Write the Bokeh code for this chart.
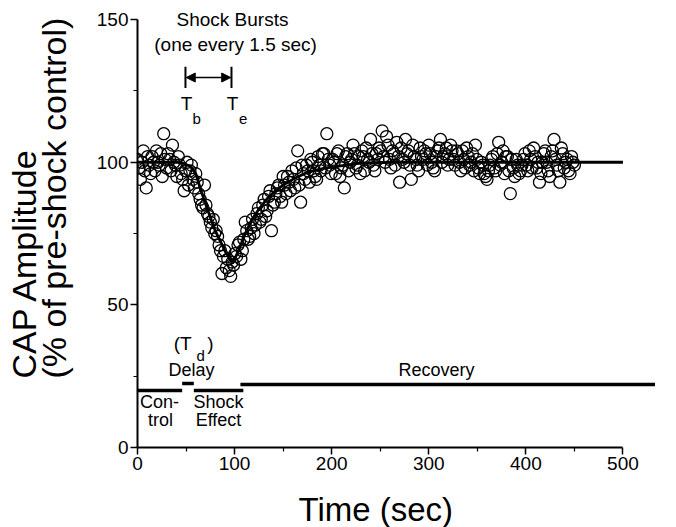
import math
from bokeh.plotting import figure
from bokeh.models import Range1d, FixedTicker, Arrow, NormalHead, Title
from bokeh.core.properties import value
from bokeh.embed import file_html
from bokeh.resources import INLINE

# ---------------- data ----------------
times = [0, 3, 6, 9, 12, 15, 18, 21, 24, 27,
         30, 33, 36, 39, 42, 45, 48, 51, 54, 57,
         60, 63, 66, 69, 72, 75, 78, 81, 84, 87,
         90, 93, 96, 99, 102, 105, 108, 111, 114, 117,
         120, 123, 126, 129, 132, 135, 138, 141, 144, 147,
         150, 153, 156, 159, 162, 165, 168, 171, 174, 177,
         180, 183, 186, 189, 192, 195, 198, 201, 204, 207,
         210, 213, 216, 219, 222, 225, 228, 231, 234, 237,
         240, 243, 246, 249, 252, 255, 258, 261, 264, 267,
         270, 273, 276, 279, 282, 285, 288, 291, 294, 297,
         300, 303, 306, 309, 312, 315, 318, 321, 324, 327,
         330, 333, 336, 339, 342, 345, 348, 351, 354, 357,
         360, 363, 366, 369, 372, 375, 378, 381, 384, 387,
         390, 393, 396, 399, 402, 405, 408, 411, 414, 417,
         420, 423, 426, 429, 432, 435, 438, 441, 444, 447,
         450]
cap_values = [101, 94, 104, 91, 99, 102, 97, 100, 103, 110,
              98, 101, 106, 99, 102, 96, 90, 100, 97, 94,
              96, 89, 85, 92, 82, 79, 80, 76, 71, 61,
              69, 66, 60, 64, 67, 72, 69, 79, 73, 77,
              75, 82, 79, 85, 81, 88, 76, 86, 91, 88,
              95, 89, 93, 97, 91, 104, 86, 96, 99, 93,
              100, 95, 102, 97, 103, 110, 99, 101, 96, 104,
              98, 91, 103, 100, 106, 98, 102, 104, 97, 101,
              108, 99, 103, 105, 111, 100, 106, 98, 103, 107,
              93, 101, 108, 104, 94, 102, 99, 105, 101, 103,
              106, 100, 97, 104, 108, 102, 105, 101, 104, 99,
              103, 97, 101, 105, 99, 103, 106, 98, 100, 96,
              94, 99, 102, 97, 107, 100, 96, 102, 89, 98,
              101, 96, 99, 103, 97, 101, 105, 98, 93, 100,
              104, 97, 102, 108, 99, 93, 103, 100, 97, 102,
              99]
times_b = [1.5, 4.5, 7.5, 10.5, 13.5, 16.5, 19.5, 22.5, 25.5, 28.5,
           31.5, 34.5, 37.5, 40.5, 43.5, 46.5, 49.5, 52.5, 55.5, 58.5,
           61.5, 64.5, 67.5, 70.5, 73.5, 76.5, 79.5, 82.5, 85.5, 88.5,
           91.5, 94.5, 97.5, 100.5, 103.5, 106.5, 109.5, 112.5, 115.5, 118.5,
           121.5, 124.5, 127.5, 130.5, 133.5, 136.5, 139.5, 142.5, 145.5, 148.5,
           151.5, 154.5, 157.5, 160.5, 163.5, 166.5, 169.5, 172.5, 175.5, 178.5,
           181.5, 184.5, 187.5, 190.5, 193.5, 196.5, 199.5, 202.5, 205.5, 208.5,
           211.5, 214.5, 217.5, 220.5, 223.5, 226.5, 229.5, 232.5, 235.5, 238.5,
           241.5, 244.5, 247.5, 250.5, 253.5, 256.5, 259.5, 262.5, 265.5, 268.5,
           271.5, 274.5, 277.5, 280.5, 283.5, 286.5, 289.5, 292.5, 295.5, 298.5,
           301.5, 304.5, 307.5, 310.5, 313.5, 316.5, 319.5, 322.5, 325.5, 328.5,
           331.5, 334.5, 337.5, 340.5, 343.5, 346.5, 349.5, 352.5, 355.5, 358.5,
           361.5, 364.5, 367.5, 370.5, 373.5, 376.5, 379.5, 382.5, 385.5, 388.5,
           391.5, 394.5, 397.5, 400.5, 403.5, 406.5, 409.5, 412.5, 415.5, 418.5,
           421.5, 424.5, 427.5, 430.5, 433.5, 436.5, 439.5, 442.5, 445.5, 448.5]
cap_values_b = [98, 100, 97, 102, 96, 100, 104, 99, 95, 101,
                103, 97, 100, 95, 99, 94, 97, 92, 99, 91,
                93, 87, 84, 85, 81, 77, 75, 74, 69, 67,
                63, 62, 65, 68, 71, 66, 73, 76, 74, 80,
                78, 84, 80, 87, 83, 90, 85, 89, 92, 86,
                92, 95, 90, 94, 98, 92, 99, 94, 97, 101,
                97, 94, 99, 103, 98, 101, 96, 100, 103, 95,
                99, 102, 97, 101, 103, 99, 96, 102, 105, 100,
                103, 97, 101, 104, 102, 109, 101, 104, 99, 102,
                105, 100, 103, 99, 106, 101, 97, 102, 104, 99,
                103, 98, 102, 105, 100, 103, 99, 106, 101, 104,
                100, 104, 98, 102, 100, 97, 101, 96, 99, 95,
                97, 101, 98, 103, 99, 104, 102, 97, 101, 95,
                99, 97, 101, 99, 104, 98, 102, 100, 96, 103,
                100, 95, 104, 101, 97, 105, 98, 101, 96, 100]

fit_t = [0, 40, 48, 55, 60, 65, 70, 80, 90, 98, 104, 111, 118, 125, 133,
         142, 150, 160, 175, 194, 228, 260, 500]
fit_v = [100, 100, 99.5, 98.5, 96, 90.5, 85.5, 76, 69, 64.5, 69, 75, 80,
         83.5, 87, 90, 92, 94, 96.5, 98, 99.6, 100, 100]

x_ticks = [0, 100, 200, 300, 400, 500]
x_minor = [50, 150, 250, 350, 450]
y_ticks = [0, 50, 100, 150]
y_minor = [25, 75, 125]

# phase bars (start, end, level)
phase_start = [0, 46, 58, 106]
phase_end = [46, 58, 109, 533]
phase_level = [20, 22.4, 20, 22.1]

burst_begin = 49.4
burst_end = 96.8

FONT = "Liberation Sans"

p = figure(width=676, height=527, output_backend="svg", toolbar_location=None,
           x_range=Range1d(0, 550), y_range=Range1d(0, 156),
           min_border_left=137, min_border_right=5, min_border_top=2,
           min_border_bottom=80)
p.outline_line_color = None
p.grid.visible = False
p.background_fill_color = "white"
p.border_fill_color = "white"

for ax, tk, mn, bd in ((p.xaxis[0], x_ticks, x_minor, (0, 500)),
                       (p.yaxis[0], y_ticks, y_minor, (0, 150))):
    ax.ticker = FixedTicker(ticks=tk, minor_ticks=mn)
    ax.bounds = bd
    ax.axis_line_width = 2
    ax.axis_line_color = "black"
    ax.major_tick_out = 7
    ax.major_tick_in = 0
    ax.major_tick_line_width = 1.5
    ax.minor_tick_out = 4
    ax.minor_tick_in = 0
    ax.minor_tick_line_width = 1.2
    ax.major_label_text_font = FONT
    ax.major_label_text_font_size = "19px"
    ax.major_label_text_color = "black"
    ax.major_label_standoff = 2
    # invisible spacer label (pushes the title panels outward)
    ax.axis_label = " "
    ax.axis_label_text_font_size = "2px"

p.xaxis[0].axis_label_standoff = 11
p.yaxis[0].axis_label_standoff = 15

# fitted curve
p.line(fit_t, fit_v, line_width=2.8, line_color="black")
# data points
for tt, vv in ((times, cap_values), (times_b, cap_values_b)):
    p.scatter(tt, vv, marker="circle", size=12, fill_color=None,
              line_color="black", line_width=1.3)

# shock burst markers
p.segment(x0=[burst_begin, burst_end], y0=[126, 126],
          x1=[burst_begin, burst_end], y1=[133.5, 133.5],
          line_width=2, line_color="black")
p.add_layout(Arrow(start=NormalHead(size=9, fill_color="black", line_color="black"),
                   end=NormalHead(size=9, fill_color="black", line_color="black"),
                   x_start=burst_begin + 0.8, y_start=129.7,
                   x_end=burst_end - 0.8, y_end=129.7,
                   line_width=1.5, line_color="black"))

# phase bars
p.segment(x0=phase_start, y0=phase_level, x1=phase_end, y1=phase_level,
          line_width=3.5, line_color="black", line_cap="butt")

def txt(xs, ys, texts, size, align="center"):
    p.text(x=xs, y=ys, text=texts, text_font=value(FONT), text_font_size=size,
           text_align=align, text_baseline="middle", text_color="black")

txt([97.8], [150.0], ["Shock Bursts"], "19px")
txt([101], [141.3], ["(one every 1.5 sec)"], "19px")
txt([burst_begin + 1, burst_end + 1], [120.6, 120.6], ["T", "T"], "19px")
txt([burst_begin + 11.5, burst_end + 12], [115.3, 115.3], ["b", "e"], "15px")
txt([46.5, 75], [36.5, 36.5], ["(T", ")"], "19px")
txt([65], [32.2], ["d"], "15px")
txt([55.6], [27.0], ["Delay"], "18px")
txt([308], [27.0], ["Recovery"], "18px")
txt([22.7, 23.7, 83.4, 83.4], [15.8, 9.5, 15.8, 9.5],
    ["Con-", "trol", "Shock", "Effect"], "18px")

# axis titles
p.add_layout(Title(text="Time (sec)", align="left", offset=161, vertical_align="bottom",
                   standoff=0, text_font=FONT, text_font_size="33px",
                   text_font_style="normal", text_color="black"), "below")
p.add_layout(Title(text="CAP Amplitude\n(% of pre-shock control)", align="left",
                   offset=69, vertical_align="bottom", standoff=0, text_font=FONT,
                   text_font_size="34px", text_font_style="normal",
                   text_line_height=0.8, text_color="black"), "left")

open("out.html", "w").write(file_html(p, INLINE))
